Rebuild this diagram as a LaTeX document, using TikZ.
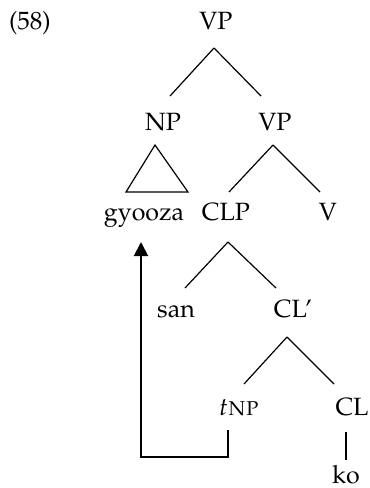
\documentclass[tikz,border=0pt]{standalone}
\usepackage[T1]{fontenc}
\usepackage{mathpazo}
\usetikzlibrary{calc,arrows.meta}

\begin{document}
\begin{tikzpicture}[x=0.5pt,y=-0.5pt,
  lab/.style={anchor=base,inner sep=0pt,font=\fontsize{12.5pt}{15pt}\selectfont},
  branch/.style={draw,line width=0.6pt},
  move/.style={draw,line width=1pt,-{Triangle[length=7pt,width=7pt]}}]
\useasboundingbox (0,0) rectangle (370,488);
\node[lab] (ex) at (30,29) {(58)};
\node[lab] (vp) at (216,29) {VP};
\node[lab] (np) at (163,130) {NP};
\node[lab] (vpb) at (275,130) {VP};
\node[lab] (gy) at (144,220) {gyooza};
\node[lab] (clp) at (226,220) {CLP};
\node[lab] (v) at (328,220) {V};
\node[lab] (san) at (176,317) {san};
\node[lab] (clbar) at (293,317) {CL\textquoteright};
\node[lab] (t) at (239,415) {$t$\textsc{np}};
\node[lab] (cl) at (352,415) {CL};
\node[lab] (ko) at (346,483) {ko};
\path[branch] ($(vp.base)+(-2,19)$) -- ($(np.base)+(7,-34)$);
\path[branch] ($(vp.base)+(-2,19)$) -- ($(vpb.base)+(-14,-34)$);
\path[branch] ($(np.base)+(-8,15)$) -- ($(gy.base)+(-18,-28)$) -- ($(gy.base)+(44,-28)$) -- cycle;
\path[branch] ($(vpb.base)+(-2,15)$) -- ($(clp.base)+(3,-28)$);
\path[branch] ($(vpb.base)+(-2,15)$) -- ($(v.base)+(-8,-28)$);
\path[branch] ($(clp.base)+(2,22)$) -- ($(san.base)+(9,-29)$);
\path[branch] ($(clp.base)+(2,22)$) -- ($(clbar.base)+(-17,-29)$);
\path[branch] ($(clbar.base)+(-6,20)$) -- ($(t.base)+(5,-31)$);
\path[branch] ($(clbar.base)+(-6,20)$) -- ($(cl.base)+(-18,-31)$);
\path[branch] ($(cl.base)+(-6,17)$) -- ($(ko.base)+(0,-23)$);
\path[move] ($(t.base)+(-11,15)$) -- ++(0,27) -| ($(gy.base)+(-3,22)$);
\end{tikzpicture}
\end{document}
